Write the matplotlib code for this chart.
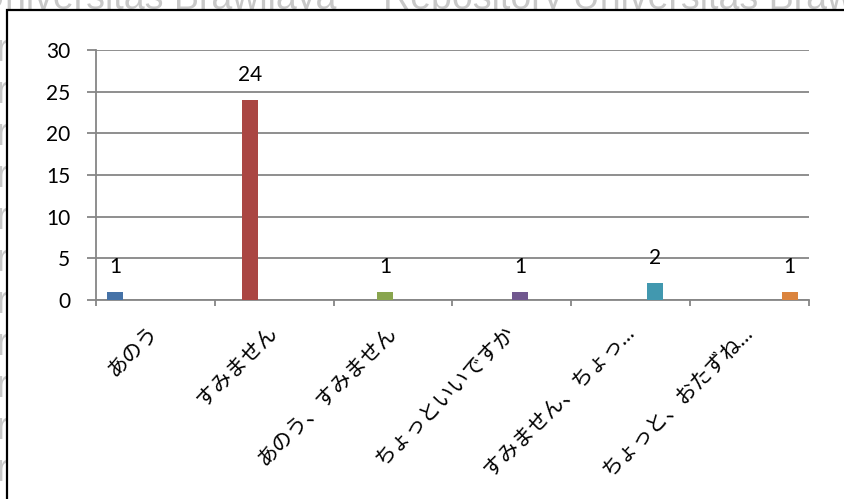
import numpy as np
import matplotlib
matplotlib.use('Agg')
from matplotlib import pyplot as plt
from matplotlib.patches import Rectangle

plt.rcParams['font.family'] = ['Lato', 'Noto Sans CJK JP', 'DejaVu Sans']

# data
categories = ['あのう', 'すみません', 'あのう、すみません', 'ちょっといいですか',
              'すみません、ちょっ…', 'ちょっと、おたずね…']
values = [1, 24, 1, 1, 2, 1]
colors = ['#4572A7', '#AA4643', '#89A54E', '#71588F', '#4198AF', '#DB843D']
yticks = [0, 5, 10, 15, 20, 25, 30]

W, H = 845, 499
fig = plt.figure(figsize=(W / 100, H / 100), dpi=100)

# watermark of the scanned page behind the chart
wm = dict(color='#c8c8c8', fontsize=27, family='Liberation Sans', va='baseline', zorder=-3)
fig.text(336 / W, 1 - 9 / H, 'Universitas Brawijaya', ha='right', **wm)
fig.text(383 / W, 1 - 9 / H, 'Repository Universitas Brawijaya', ha='left', **wm)
for yy in np.arange(53, 499, 42):
    fig.text(9 / W, 1 - (yy + 8) / H, 'Repository Univer', ha='right', **wm)

# chart frame (white box with black border)
fig.add_artist(Rectangle((7 / W, -0.1), 1.2, 1.1 - 10 / H, transform=fig.transFigure,
                         facecolor='white', edgecolor='black', lw=1.6, zorder=-1))

ax = fig.add_axes([96 / W, 1 - 300 / H, 713 / W, 250 / H])
ax.set_facecolor('none')

n = len(categories)
w = 16 / 119
for i in range(n):
    x = i + (i - (n - 1) / 2) * w
    ax.bar(x, values[i], width=w, color=colors[i], zorder=3)
    ax.annotate(str(values[i]), (x, values[i]), xytext=(0, 13.7), textcoords='offset points',
                ha='center', va='baseline', fontsize=15, color='black')

ax.set_xlim(-0.5, n - 0.5)
ax.set_ylim(0, 30)
ax.set_yticks(yticks)
ax.set_yticklabels([str(t) for t in yticks])
ax.grid(axis='y', color='#868686', lw=1.3, zorder=0)

gray = '#868686'
for s in ['top', 'right']:
    ax.spines[s].set_visible(False)
for s in ['left', 'bottom']:
    ax.spines[s].set_color(gray)
    ax.spines[s].set_linewidth(1.3)

ax.tick_params(axis='y', length=6.5, width=1.3, color=gray, pad=12, labelsize=15)
ax.set_xticks(np.arange(-0.5, n, 1.0), minor=True)
ax.set_xticks(np.arange(n))
ax.set_xticklabels(categories, rotation=45, ha='right', rotation_mode='anchor',
                   va='center', fontsize=15)
ax.tick_params(axis='x', which='major', length=0, pad=21)
ax.tick_params(axis='x', which='minor', length=4.5, width=1.3, color=gray)

fig.savefig('out.png', dpi=100)
